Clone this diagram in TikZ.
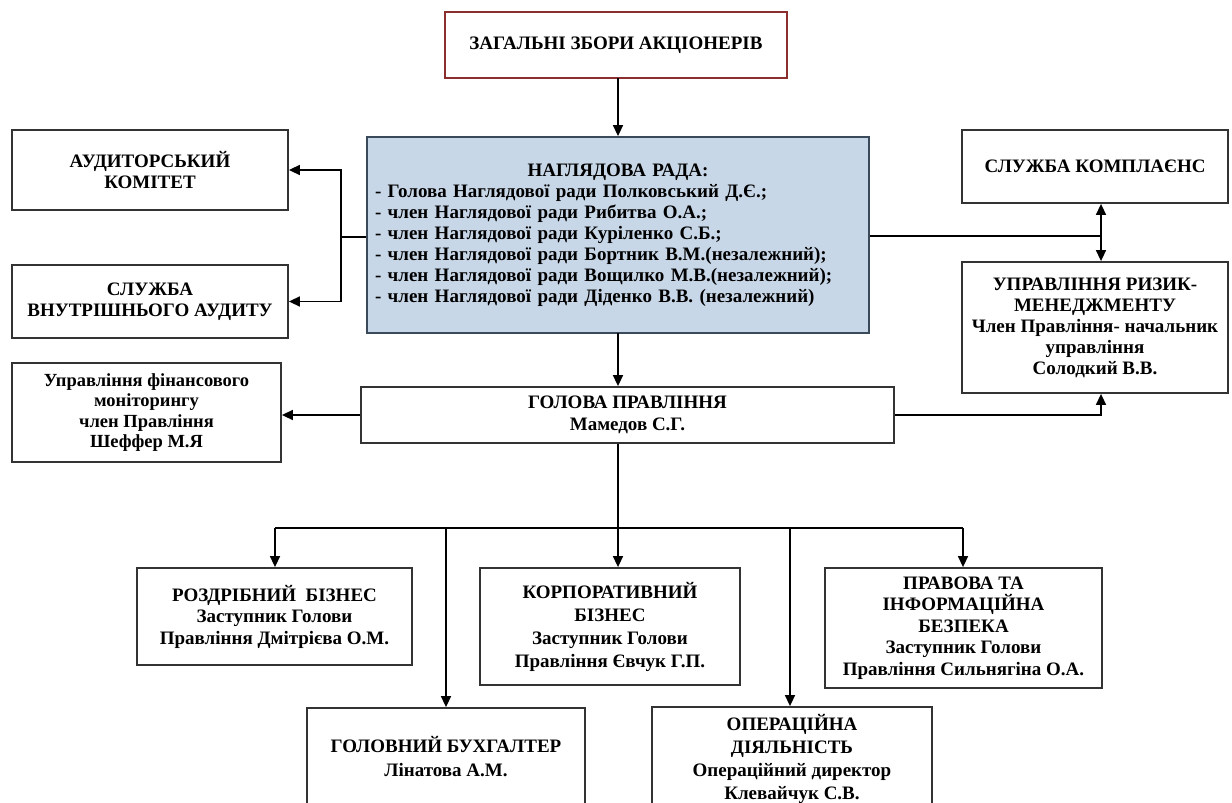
\documentclass[tikz,border=0pt]{standalone}
\usepackage{fontspec}
\setmainfont{Liberation Serif}
\usetikzlibrary{arrows.meta}
\definecolor{zbred}{HTML}{8B2E2E}
\definecolor{radafill}{HTML}{C8D7E8}
\definecolor{radaline}{HTML}{3B4A5A}
\definecolor{boxline}{HTML}{333333}
\tikzset{
  box/.style={draw=boxline, line width=1.8pt, fill=white, inner sep=0pt, align=center,
    font=\bfseries\fontsize{19}{21.5}\selectfont},
  arr/.style={line width=1.5pt, draw=black, -{Triangle[length=11pt,width=10pt]}},
  ln/.style={line width=1.5pt, draw=black},
}
\begin{document}
\begin{tikzpicture}[x=1pt,y=-1pt]
\useasboundingbox (0,0) rectangle (1232,803);
\fill[white] (0,0) rectangle (1232,803);
\clip (0,0) rectangle (1232,803);
% boxes
\node[box, draw=zbred, minimum width=342, minimum height=66] (zb) at (616,45) {ЗАГАЛЬНІ ЗБОРИ АКЦІОНЕРІВ};
\node[box, draw=radaline, fill=radafill, minimum width=502, minimum height=196, text width=486, align=left,
  font=\bfseries\fontsize{19}{21}\selectfont] (rada) at (618,235)
 {\centering НАГЛЯДОВА РАДА:\par\raggedright
 - Голова Наглядової ради Полковський Д.Є.;\\
 - член Наглядової ради Рибитва О.А.;\\
 - член Наглядової ради Куріленко С.Б.;\\
 - член Наглядової ради Бортник В.М.(незалежний);\\
 - член Наглядової ради Вощилко М.В.(незалежний);\\
 - член Наглядової ради Діденко В.В. (незалежний)\par\vspace{14pt}};
\node[box, minimum width=276, minimum height=80] (aud) at (150,170) {АУДИТОРСЬКИЙ\\КОМІТЕТ};
\node[box, minimum width=276, minimum height=73] (sva) at (150,301.5) {СЛУЖБА\\ВНУТРІШНЬОГО АУДИТУ};
\node[box, minimum width=266, minimum height=73] (kompl) at (1095,166.5) {СЛУЖБА КОМПЛАЄНС};
\node[box, minimum width=266, minimum height=131, font=\bfseries\fontsize{19}{21}\selectfont] (risk) at (1095,327.5) {УПРАВЛІННЯ РИЗИК-\\МЕНЕДЖМЕНТУ\\Член Правління- начальник\\управління\\Солодкий В.В.};
\node[box, minimum width=533, minimum height=56] (golova) at (627.5,415) {ГОЛОВА ПРАВЛІННЯ\\Мамедов С.Г.};
\node[box, minimum width=269, minimum height=99, font=\bfseries\fontsize{18.5}{20.5}\selectfont] (fin) at (146.5,412.5) {Управління фінансового\\моніторингу\\член Правління\\Шеффер М.Я};
\node[box, minimum width=275, minimum height=97] (rozd) at (274.5,616.5) {РОЗДРІБНИЙ\ \ БІЗНЕС\\Заступник Голови\\Правління Дмітрієва О.М.};
\node[box, minimum width=260, minimum height=117, font=\bfseries\fontsize{19}{23}\selectfont] (korp) at (610,626.5) {КОРПОРАТИВНИЙ\\БІЗНЕС\\Заступник Голови\\Правління Євчук Г.П.};
\node[box, minimum width=277, minimum height=120] (prav) at (963.5,628) {ПРАВОВА ТА\\ІНФОРМАЦІЙНА\\БЕЗПЕКА\\Заступник Голови\\Правління Сильнягіна О.А.};
\node[box, minimum width=278, minimum height=130, font=\bfseries\fontsize{19}{24}\selectfont] (buh) at (446,773) {ГОЛОВНИЙ БУХГАЛТЕР\\Лінатова А.М.\\[10pt]};
\node[box, minimum width=280, minimum height=130, font=\bfseries\fontsize{19}{23}\selectfont] (oper) at (792,772) {ОПЕРАЦІЙНА\\ДІЯЛЬНІСТЬ\\Операційний директор\\Клевайчук С.В.\\[8pt]};
% connectors
\draw[arr] (618,78) coordinate (zbs) -- (zbs |- rada.north);
\coordinate (lj) at (341,237);
\draw[ln] (rada.west |- lj) -- (lj);
\draw[arr] (lj) |- (aud.east);
\draw[arr] (lj) |- (sva.east);
\coordinate (rj) at (1101,236);
\draw[ln] (rada.east |- rj) -- (rj);
\draw[arr] (rj) -- (rj |- kompl.south);
\draw[arr] (rj) -- (rj |- risk.north);
\coordinate (rs) at (618,333);
\draw[arr] (rs) -- (rs |- golova.north);
\draw[arr] (golova.west) -- (golova.west -| fin.east);
\draw[arr] (golova.east) -| (rj |- risk.south);
\coordinate (bus) at (618,528);
\coordinate (b1) at (275,528);
\coordinate (b2) at (446,528);
\coordinate (b4) at (790,528);
\coordinate (b5) at (963,528);
\draw[ln] (bus |- golova.south) -- (bus);
\draw[ln] (b1) -- (b5);
\draw[arr] (b1) -- (b1 |- rozd.north);
\draw[arr] (b2) -- (b2 |- buh.north);
\draw[arr] (bus) -- (bus |- korp.north);
\draw[arr] (b4) -- (b4 |- oper.north);
\draw[arr] (b5) -- (b5 |- prav.north);
\end{tikzpicture}
\end{document}
